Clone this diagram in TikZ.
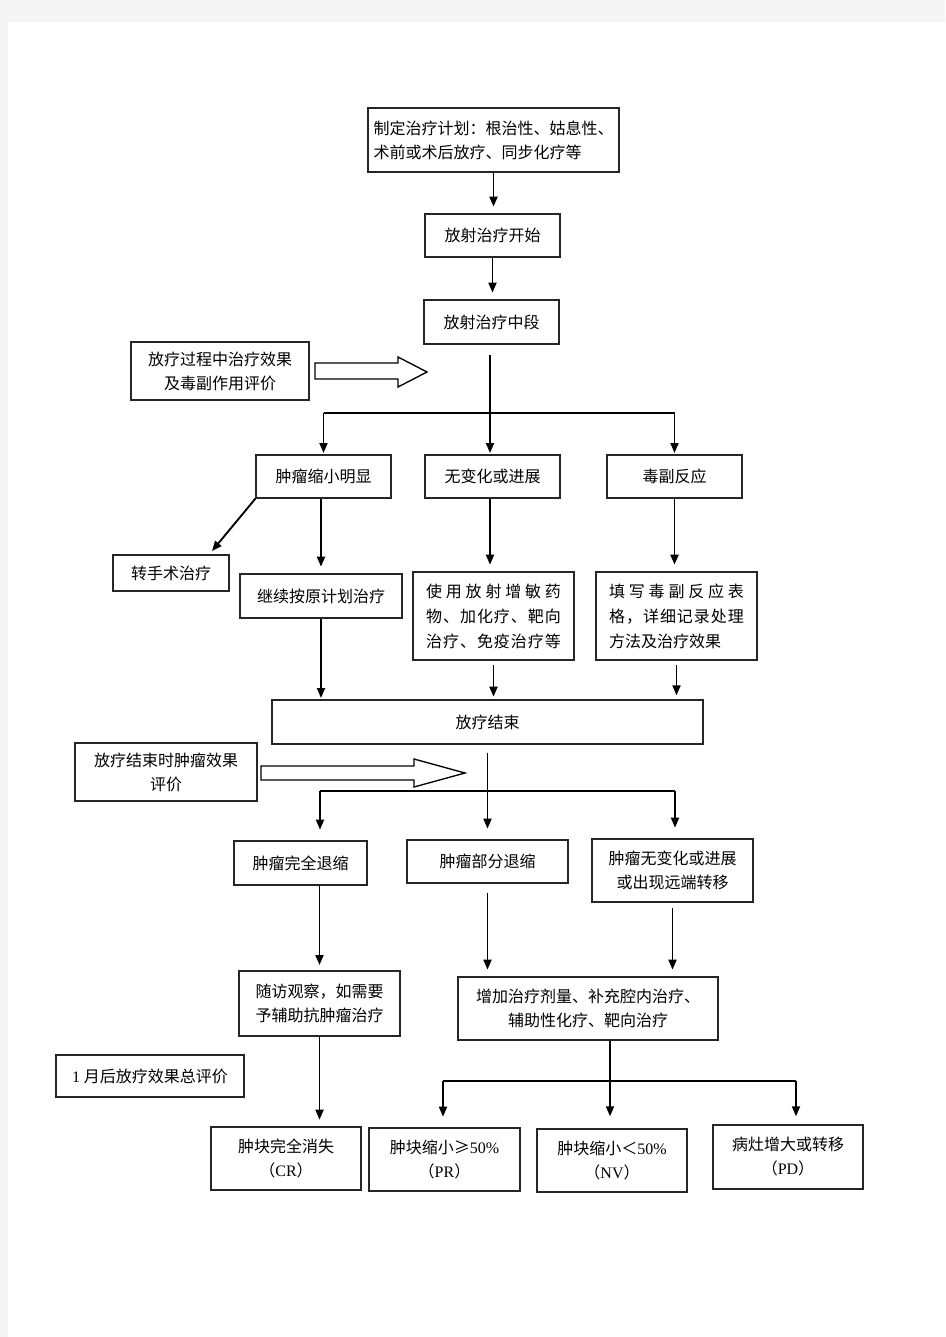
\documentclass[tikz,border=0pt]{standalone}
\usepackage{fontspec}
\setmainfont{Noto Sans CJK SC}
\newfontfamily\lat{Liberation Serif}
\usetikzlibrary{arrows.meta,calc}
\newcommand{\spr}[1]{\makebox[101pt][l]{#1}}
\begin{document}
\begin{tikzpicture}[x=0.75pt,y=-0.75pt,
  box/.style 2 args={draw=black!85,line width=1pt,inner sep=0pt,
     minimum width=#1*0.75pt,minimum height=#2*0.75pt,
     font=\fontsize{12pt}{18pt}\selectfont,text=black,align=center},
  ln/.style={line width=1.4pt,black},
  arr/.style={line width=1.4pt,black,-{Triangle[length=7.5pt,width=6pt]}},
  hollow/.style={draw=black,line width=1pt,fill=white}]
\fill[black!4] (0,0) rectangle (945,1337);
\fill[white] (8,22) rectangle (945,1337);
\useasboundingbox (0,0) rectangle (945,1337);

% top chain
\node[box={251}{64},align=left] (plan) at (493.5,140) {制定治疗计划：根治性、姑息性、\\术前或术后放疗、同步化疗等};
\node[box={135}{43}] (start) at (492.5,235.5) {放射治疗开始};
\node[box={135}{44}] (mid) at (491.5,322) {放射治疗中段};
\node[box={178}{58}] (eval1) at (220,371) {放疗过程中治疗效果\\及毒副作用评价};

% row 1
\node[box={135}{43}] (b1) at (323.5,476.5) {肿瘤缩小明显};
\node[box={135}{43}] (b2) at (492.5,476.5) {无变化或进展};
\node[box={135}{43}] (b3) at (674.5,476.5) {毒副反应};

\node[box={116}{36}] (surg) at (171,573) {转手术治疗};
\node[box={162}{44}] (cont) at (321,596) {继续按原计划治疗};
\node[box={161}{88},align=left,font=\fontsize{12pt}{18.75pt}\selectfont] (sens) at (493.5,616)
  {\spr{使\hfill 用\hfill 放\hfill 射\hfill 增\hfill 敏\hfill 药}\\
   \spr{物\hfill 、\hfill 加\hfill 化\hfill 疗\hfill 、\hfill 靶\hfill 向}\\
   \spr{治\hfill 疗\hfill 、\hfill 免\hfill 疫\hfill 治\hfill 疗\hfill 等}};
\node[box={161}{88},align=left,font=\fontsize{12pt}{18.75pt}\selectfont] (fill) at (676.5,616)
  {\spr{填\hfill 写\hfill 毒\hfill 副\hfill 反\hfill 应\hfill 表}\\
   \spr{格\hfill ，\hfill 详\hfill 细\hfill 记\hfill 录\hfill 处\hfill 理}\\
   \spr{方法及治疗效果}};

\node[box={431}{44}] (end) at (487.5,722) {放疗结束};
\node[box={182}{58}] (eval2) at (166,772) {放疗结束时肿瘤效果\\评价};

% row 2
\node[box={133}{44}] (c1) at (300.5,863) {肿瘤完全退缩};
\node[box={161}{43}] (c2) at (487.5,861.5) {肿瘤部分退缩};
\node[box={161}{63}] (c3) at (672.5,870.5) {肿瘤无变化或进展\\或出现远端转移};

\node[box={161}{65}] (follow) at (319.5,1003.5) {随访观察，如需要\\予辅助抗肿瘤治疗};
\node[box={260}{63}] (add) at (588,1008.5) {增加治疗剂量、补充腔内治疗、\\辅助性化疗、靶向治疗};
\node[box={188}{42}] (eval3) at (150,1076) {{\lat 1} 月后放疗效果总评价};

% bottom row
\node[box={150}{63}] (cr) at (286,1158.5) {肿块完全消失\\（{\lat CR}）};
\node[box={151}{63}] (pr) at (444.5,1159.5) {肿块缩小≥{\lat 50\%}\\（{\lat PR}）};
\node[box={150}{63}] (nv) at (612,1160.5) {肿块缩小＜{\lat 50\%}\\（{\lat NV}）};
\node[box={150}{64}] (pd) at (788,1157) {病灶增大或转移\\（{\lat PD}）};

% hollow arrows
\draw[hollow] (315,363) -- (398,363) -- (398,357) -- (427,372) -- (398,387) -- (398,379) -- (315,379) -- cycle;
\draw[hollow] (261,766) -- (414,766) -- (414,759) -- (465,773) -- (414,787) -- (414,780) -- (261,780) -- cycle;

% connectors top
\draw[arr,shorten >=5pt] (plan.south) -- (plan.south |- start.north);
\draw[arr,shorten >=5pt] (start.south) -- (start.south |- mid.north);
\coordinate (j1) at (490,413);
\draw[ln,shorten <=8pt] (j1 |- mid.south) -- (j1);
\draw[ln] (b1.north |- j1) -- (b3.north |- j1);
\draw[arr,shorten >=1pt] (b1.north |- j1) -- (b1.north);
\draw[arr,shorten >=1pt] (j1) -- (j1 |- b2.north);
\draw[arr,shorten >=1pt] (b3.north |- j1) -- (b3.north);

\coordinate (surgtip) at (212,551);
\draw[arr] (b1.south west) -- (surgtip);
\draw[arr,shorten >=5pt] (cont.north |- b1.south) -- (cont.north);
\draw[arr,shorten >=5pt] (j1 |- b2.south) -- (j1 |- sens.north);
\draw[arr,shorten >=5pt] (b3.south) -- (b3.south |- fill.north);

\draw[arr,shorten >=1pt] (cont.south) -- (cont.south |- end.north);
\draw[arr,shorten <=3pt,shorten >=2pt] (sens.south) -- (sens.south |- end.north);
\draw[arr,shorten <=3pt,shorten >=3pt] (fill.south) -- (fill.south |- end.north);

% connectors middle
\coordinate (j2l) at (320,791);
\coordinate (j2r) at (675,791);
\draw[ln] (j2l) -- (j2r);
\draw[arr,shorten <=6pt,shorten >=8pt] (end.south) -- (end.south |- c2.north);
\draw[arr,shorten >=8pt] (j2l) -- (j2l |- c1.north);
\draw[arr,shorten >=8pt] (j2r) -- (j2r |- c3.north);

\draw[arr,shorten >=4pt] (follow.north |- c1.south) -- (follow.north);
\draw[arr,shorten <=7pt,shorten >=5pt] (c2.south) -- (c2.south |- add.north);
\draw[arr,shorten <=4pt,shorten >=5pt] (c3.south) -- (c3.south |- add.north);

% connectors bottom
\coordinate (j3) at (610,1081);
\coordinate (j3l) at (443,1081);
\coordinate (j3r) at (796,1081);
\draw[ln] (j3 |- add.south) -- (j3);
\draw[ln] (j3l) -- (j3r);
\draw[arr,shorten >=5pt] (follow.south) -- (follow.south |- cr.north);
\draw[arr,shorten >=8pt] (j3l) -- (j3l |- pr.north);
\draw[arr,shorten >=9pt] (j3) -- (j3 |- nv.north);
\draw[arr,shorten >=6pt] (j3r) -- (j3r |- pd.north);
\end{tikzpicture}
\end{document}
